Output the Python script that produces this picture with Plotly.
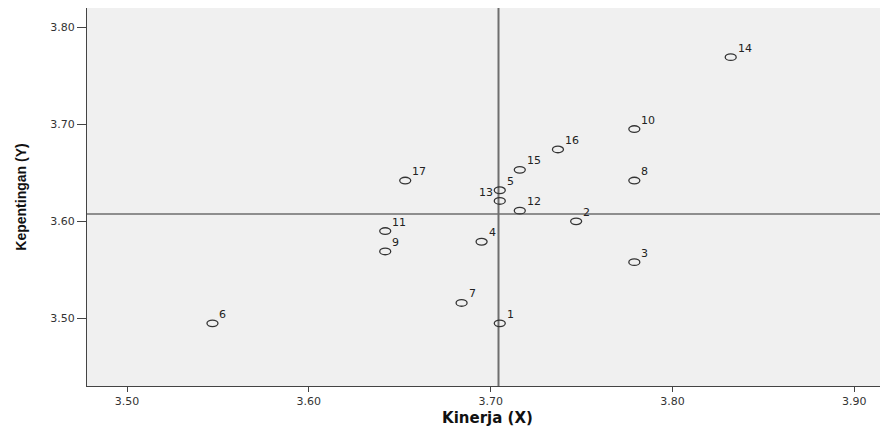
import plotly.graph_objects as go

labels = [str(i) for i in range(1, 18)]
kinerja_x = [3.705, 3.747, 3.779, 3.695, 3.705, 3.547, 3.684, 3.779, 3.642,
             3.779, 3.642, 3.716, 3.705, 3.832, 3.716, 3.737, 3.653]
kepentingan_y = [3.495, 3.600, 3.558, 3.579, 3.632, 3.495, 3.516, 3.642, 3.569,
                 3.695, 3.590, 3.611, 3.621, 3.769, 3.653, 3.674, 3.642]
x_ref = 3.7043
y_ref = 3.6075
x_ticks = [3.50, 3.60, 3.70, 3.80, 3.90]
y_ticks = [3.50, 3.60, 3.70, 3.80]

fig = go.Figure()
# invisible trace carrying the data (hover), marks drawn as pixel-sized ellipses below
fig.add_trace(go.Scatter(
    x=kinerja_x, y=kepentingan_y, mode="markers",
    marker=dict(size=10, opacity=0),
    showlegend=False,
))

for lab, xv, yv in zip(labels, kinerja_x, kepentingan_y):
    fig.add_shape(
        type="circle", xref="x", yref="y",
        xsizemode="pixel", ysizemode="pixel", xanchor=xv, yanchor=yv,
        x0=-5.5, x1=5.5, y0=-3.3, y1=3.3,
        line=dict(color="#333", width=1.3), fillcolor="rgba(0,0,0,0)",
    )
    left = lab == "13"
    fig.add_annotation(
        x=xv, y=yv, text=lab, showarrow=False,
        xanchor="right" if left else "left", yanchor="middle",
        xshift=-5 if left else 5, yshift=8 if left else 9,
        font=dict(family="DejaVu Sans", size=11, color="#222"),
    )

fig.add_shape(type="line", xref="x", yref="paper", x0=x_ref, x1=x_ref, y0=0, y1=1,
              line=dict(color="#6e6e6e", width=2), layer="below")
fig.add_shape(type="line", xref="paper", yref="y", x0=0, x1=1, y0=y_ref, y1=y_ref,
              line=dict(color="#6e6e6e", width=1.5), layer="below")

# page body has an 8px margin, so the figure is sized to fit the 888x427 window
fig.update_layout(
    width=880, height=419,
    margin=dict(l=79, r=0, t=0, b=41),
    paper_bgcolor="white", plot_bgcolor="#f0f0f0",
    font=dict(family="DejaVu Sans", size=11, color="#333"),
)
fig.update_xaxes(
    range=[3.478, 3.9185], tickvals=x_ticks, tickformat=".2f", automargin=False,
    showgrid=False, zeroline=False, showline=True, linecolor="#444", linewidth=1,
    mirror=True, ticks="outside", ticklen=5, tickcolor="#444",
    tickfont=dict(family="DejaVu Sans", size=11, color="#333"),
    title=dict(text="<b>Kinerja (X)</b>",
               font=dict(family="DejaVu Sans", size=15, color="#111"), standoff=5),
)
fig.update_yaxes(
    range=[3.4305, 3.8196], tickvals=y_ticks, tickformat=".2f", automargin=False,
    showgrid=False, zeroline=False, showline=True, linecolor="#444", linewidth=1,
    ticks="outside", ticklen=9, tickcolor="#444",
    tickfont=dict(family="DejaVu Sans", size=11, color="#333"),
    title=dict(text="<b>Kepentingan (Y)</b>",
               font=dict(family="Liberation Sans", size=14, color="#111"),
               standoff=20),
)

fig.write_html("out.html")
